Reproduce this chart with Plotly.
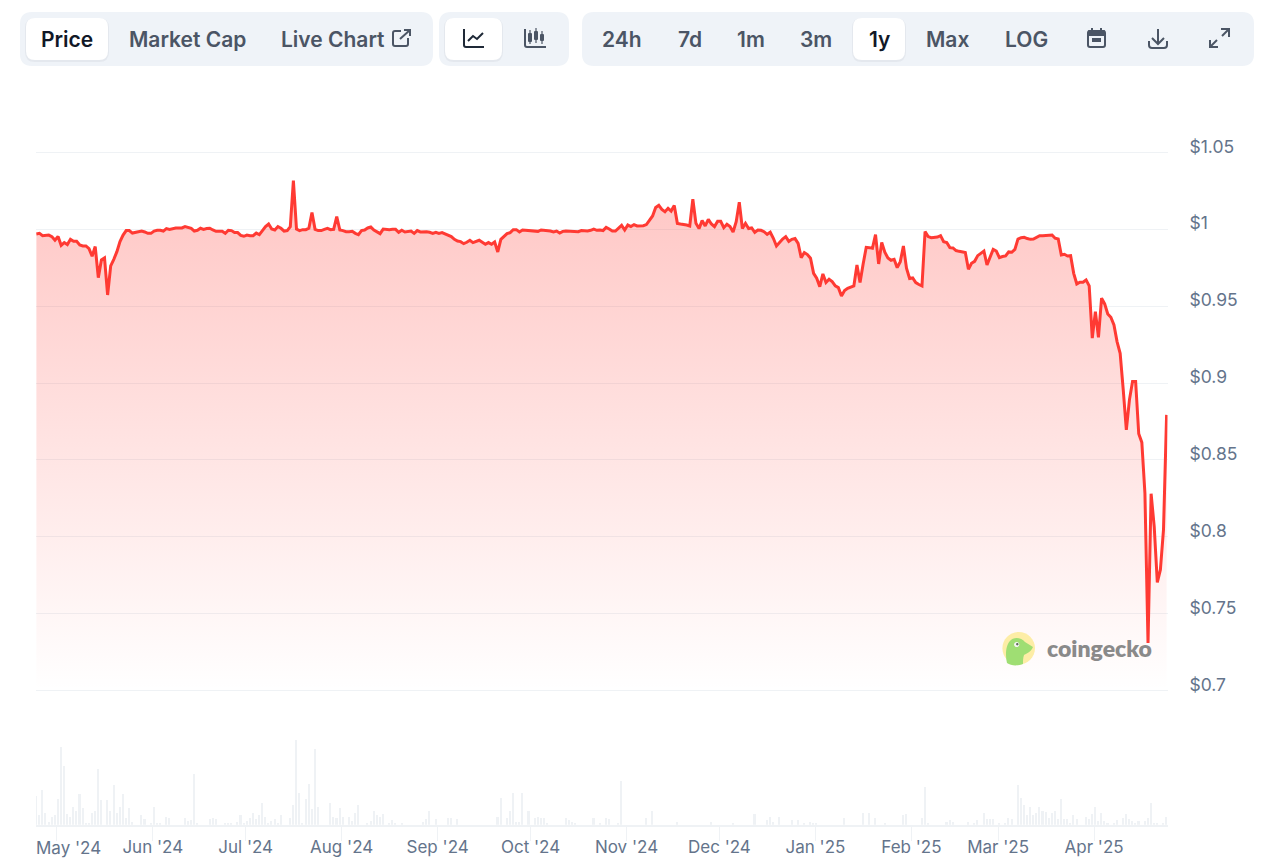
import pandas as pd
import plotly.graph_objects as go

AXIS_START = pd.Timestamp("2024-04-24 07:00")
FIRST_DAY = pd.Timestamp("2024-04-24 10:00")
END = pd.Timestamp("2025-04-24 17:00")

price = [
    .9970,.9974,.9959,.9959,.9963,.9953,.9929,.9953,.9896,.9914,.9901,.9935,.9922,.9922,.9898,.9892,.9892,.9875,.9825,.9888,
    .9686,.9801,.9814,.9573,.9762,.9805,.9855,.9920,.9963,.9992,.9992,.9976,.9981,.9989,.9989,.9983,.9974,.9974,.9989,.9994,
    .9994,.9989,1.0005,1.0000,1.0007,1.0009,1.0009,1.0009,1.0018,1.0011,1.0007,.9989,.9994,1.0007,1.0000,1.0005,1.0007,.9996,.9987,.9987,
    .9987,.9974,.9994,.9992,.9979,.9979,.9961,.9955,.9963,.9959,.9959,.9976,.9966,.9992,1.0018,1.0035,1.0002,.9996,1.0018,1.0007,
    .9989,.9992,1.0018,1.0317,1.0002,.9992,.9998,.9998,1.0007,1.0109,1.0000,.9992,.9992,1.0000,1.0007,.9998,1.0000,1.0083,.9996,.9992,
    .9985,.9985,.9987,.9974,.9966,.9992,.9996,1.0009,1.0015,.9996,.9985,.9972,1.0002,.9998,.9998,1.0000,1.0000,.9981,.9994,.9983,
    .9987,.9989,.9974,.9992,
    .9983,.9985,.9985,.9981,.9974,.9981,.9974,.9979,.9970,.9961,.9953,.9935,.9924,.9920,.9907,.9916,.9929,.9914,.9924,.9929,
    .9916,.9903,.9914,.9903,.9918,.9853,.9935,.9953,.9972,.9979,.9998,.9998,.9983,.9996,.9994,.9994,.9992,.9992,.9987,.9996,
    .9994,.9994,.9989,.9983,.9989,.9976,.9987,.9989,.9989,.9985,.9985,.9985,.9992,.9989,.9989,.9994,1.0002,.9994,.9996,.9992,
    1.0013,1.0002,.9989,.9989,1.0005,1.0026,.9996,1.0028,1.0018,1.0031,1.0022,1.0022,1.0024,1.0031,1.0061,1.0087,1.0143,1.0156,1.0130,1.0115,
    1.0137,1.0119,1.0156,1.0039,1.0035,1.0033,1.0028,1.0022,1.0197,1.0039,1.0005,1.0057,1.0022,1.0065,1.0035,1.0018,1.0052,1.0052,1.0011,1.0033,
    1.0018,.9983,1.0050,1.0176,1.0005,1.0039,1.0005,1.0009,.9981,.9996,.9994,.9985,.9968,.9981,.9942,.9892,.9918,.9937,.9953,.9922,
    .9935,.9940,.9909,.9816,.9849,.9836,.9812,.9714,.9682,.9627,
    .9710,.9654,.9675,.9660,.9632,.9621,.9567,.9602,.9617,.9625,.9632,.9768,.9654,.9775,.9883,.9881,.9877,.9966,.9775,.9914,
    .9851,.9814,.9799,.9805,.9751,.9790,.9892,.9747,.9680,.9684,.9654,.9641,.9632,.9985,.9953,.9946,.9946,.9950,.9959,.9920,
    .9914,.9881,.9879,.9862,.9857,.9851,.9849,.9740,.9779,.9792,.9829,.9844,.9859,.9768,.9823,.9870,.9859,.9816,.9823,.9827,
    .9853,.9851,.9870,.9937,.9946,.9948,.9940,.9935,.9937,.9946,.9959,.9959,.9959,.9959,.9963,.9942,.9937,.9833,.9838,.9827,
    .9829,.9714,.9645,.9656,.9656,.9671,.9632,.9292,.9465,.9298,.9552,.9515,.9450,.9428,.9378,
    .9270,.9194,.8956,.8696,.8891,.9010,.9010,.8670,.8614,.8284,.7309,.8280,.8067,.7703,.7786,.8046,.8793,
]

volume_day = [
    0,1,2,3,4,5,6,7,8,9,10,11,12,13,14,15,16,17,18,19,20,21,23,24,25,26,27,28,29,30,31,34,35,37,38,39,40,42,43,48,49,50,51,52,
    56,57,58,61,62,63,65,66,67,68,69,70,71,72,73,74,75,76,77,78,79,82,83,84,85,86,87,88,89,90,91,95,96,97,98,99,101,102,103,104,
    107,108,109,110,111,112,114,115,116,118,125,126,127,129,133,134,136,149,150,152,153,154,155,156,157,159,161,162,163,164,165,
    171,172,173,174,180,182,184,185,188,189,197,199,207,218,225,232,236,237,238,240,244,246,248,250,251,252,261,267,269,271,274,
    280,281,286,287,288,294,295,296,301,303,304,306,307,308,309,311,313,314,315,317,318,319,320,321,322,323,324,325,326,327,328,
    329,330,331,332,333,334,335,336,339,340,341,342,343,344,345,346,348,349,351,352,353,354,355,356,358,359,360,361,362,364,365,
]
volume = [
    29,10,35,12,3,8,10,26,78,59,11,8,18,14,31,17,2,2,12,14,56,25,25,14,40,12,18,31,7,17,3,10,6,2,18,2,2,8,7,7,4,5,51,2,
    6,7,6,2,2,2,3,10,2,4,7,12,6,10,22,8,2,4,6,2,10,7,20,85,32,2,26,41,16,76,18,22,8,7,17,8,8,4,12,20,
    2,4,14,10,8,11,2,5,2,2,3,6,14,6,7,7,6,8,27,7,14,32,3,3,32,14,7,8,7,7,2,
    7,5,3,2,7,2,7,6,2,44,7,14,3,3,2,11,5,8,3,8,5,5,2,3,2,2,7,12,12,7,2,
    10,11,7,38,2,3,5,3,3,2,5,12,6,6,6,2,2,7,6,40,27,20,10,18,10,12,18,14,13,7,12,
    14,6,26,6,6,2,10,6,8,6,11,18,4,12,4,2,2,5,7,11,6,4,2,4,4,7,22,2,2,2,8,
]

month_ticks = ["2024-05-01","2024-06-01","2024-07-01","2024-08-01","2024-09-01","2024-10-01",
               "2024-11-01","2024-12-01","2025-01-01","2025-02-01","2025-03-01","2025-04-01"]
month_labels = ["May '24","Jun '24","Jul '24","Aug '24","Sep '24","Oct '24",
                "Nov '24","Dec '24","Jan '25","Feb '25","Mar '25","Apr '25"]
price_ticks = [0.7,0.75,0.8,0.85,0.9,0.95,1,1.05]
price_labels = ["$0.7","$0.75","$0.8","$0.85","$0.9","$0.95","$1","$1.05"]

W, H = 1279, 865
LINE = "#FF3A33"
GRID = "#EFF2F5"
TICKTXT = "#64748B"
PILL = "#EFF3F8"
ACTIVE_TXT = "#111827"
IDLE_TXT = "#4B5565"
ICON = "#4B5565"
# The axis range runs 2 px past the two outer gridlines, so that both stay drawn.
PAD = 2 * 0.05 / 76.86


def px(x):
    return x / W


def py(y):
    return 1 - y / H


def transform(path_tokens):
    """Tokens: letters stay, numbers come as x,y pixel pairs."""
    out, is_x = [], True
    for t in path_tokens.split():
        if t.isalpha():
            out.append(t)
            is_x = True
        else:
            out.append(f"{px(float(t)):.5f}" if is_x else f"{py(float(t)):.5f}")
            is_x = not is_x
    return " ".join(out)


def rrect(x0, y0, x1, y1, r):
    return (f"M {x0+r} {y0} L {x1-r} {y0} Q {x1} {y0} {x1} {y0+r} L {x1} {y1-r} Q {x1} {y1} {x1-r} {y1} "
            f"L {x0+r} {y1} Q {x0} {y1} {x0} {y1-r} L {x0} {y0+r} Q {x0} {y0} {x0+r} {y0} Z")


def circle(cx, cy, r):
    k = r * 0.5523
    return (f"M {cx-r} {cy} C {cx-r} {cy-k} {cx-k} {cy-r} {cx} {cy-r} C {cx+k} {cy-r} {cx+r} {cy-k} {cx+r} {cy} "
            f"C {cx+r} {cy+k} {cx+k} {cy+r} {cx} {cy+r} C {cx-k} {cy+r} {cx-r} {cy+k} {cx-r} {cy} Z")


shapes = []


def fill(path, color):
    shapes.append(dict(type="path", xref="paper", yref="paper", path=transform(path),
                       fillcolor=color, line=dict(width=0), layer="above"))


def stroke(path, color=ICON, width=2):
    shapes.append(dict(type="path", xref="paper", yref="paper", path=transform(path),
                       line=dict(color=color, width=width), layer="above"))


# toolbar pills
fill(rrect(20, 12, 433, 66, 12), PILL)
fill(rrect(439, 12, 569, 66, 12), PILL)
fill(rrect(582, 12, 1254, 66, 12), PILL)
for x0, x1 in [(26, 108), (445, 502), (853, 905)]:
    fill(rrect(x0 - 1, 18, x1 + 1, 62, 10), "rgba(30,41,59,0.05)")
    fill(rrect(x0, 18, x1, 60, 9), "#FFFFFF")

# external-link icon
stroke("M 401 31 L 395 31 Q 393 31 393 33 L 393 44 Q 393 46 395 46 L 406 46 Q 408 46 408 44 L 408 38")
stroke("M 400 39 L 410 30")
stroke("M 404 30 L 410 30 L 410 36")
# line-chart icon
stroke("M 464 29 L 464 45 Q 464 47 466 47 L 484 47", "#1F2937")
stroke("M 468 41 L 473 36 L 477 39 L 483 33", "#1F2937")
# candlestick icon
stroke("M 525 29 L 525 45 Q 525 47 527 47 L 546 47")
for cx, top, bot, w0, w1 in [(530, 33, 42, 30, 44), (536, 31, 40, 28, 43), (542, 34, 41, 31, 44)]:
    stroke(f"M {cx} {w0} L {cx} {w1}", ICON, 1.2)
    fill(rrect(cx - 2, top, cx + 2, bot, 1), ICON)
# calendar icon
stroke(rrect(1088, 31, 1105, 47, 2))
fill(rrect(1088, 30, 1105, 36, 1), ICON)
stroke("M 1092 28 L 1092 32")
stroke("M 1101 28 L 1101 32")
fill(rrect(1092, 38, 1101, 42, 0), ICON)
# download icon
stroke("M 1158 29 L 1158 43")
stroke("M 1152 38 L 1158 44 L 1164 38")
stroke("M 1149 41 L 1149 45 Q 1149 48 1152 48 L 1164 48 Q 1167 48 1167 45 L 1167 41")
# expand icon
stroke("M 1210 47 L 1217 40")
stroke("M 1210 40 L 1210 47 L 1218 47")
stroke("M 1222 36 L 1229 29")
stroke("M 1221 29 L 1229 29 L 1229 37")

# coingecko logo
fill(circle(1018.7, 648.3, 16.3), "#FDEDA6")
fill("M 1007 663 C 1005 655 1006 645 1010 641 C 1013 637 1021 637 1025 642 L 1033 647 C 1031 652 1026 654 "
     "1024 655 C 1023 658 1023 661 1023 664 C 1018 666 1011 666 1007 663 Z", "#9FDE73")
fill(circle(1016.7, 644.5, 2.6), "#F4F4F4")
fill(circle(1017.3, 644.3, 1.2), "#5F6B5A")

annotations = []


def label(text, x, y, size=21, color=IDLE_TXT, weight=600, family="Inter", anchor="center"):
    annotations.append(dict(text=text, x=px(x), y=py(y), xref="paper", yref="paper", showarrow=False,
                            xanchor=anchor, yanchor="middle",
                            font=dict(family=family, size=size, color=color, weight=weight)))


label("Price", 66.5, 39, color=ACTIVE_TXT)
label("Market Cap", 187, 39)
label("Live Chart", 333, 39)
for text, cx, active in [("24h", 622, False), ("7d", 690, False), ("1m", 751, False), ("3m", 816, False),
                         ("1y", 879, True), ("Max", 947, False), ("LOG", 1026, False)]:
    label(text, cx, 39, color=ACTIVE_TXT if active else IDLE_TXT)
label("coingecko", 1099.5, 648, size=23, color="#8A8A8A", weight=800, family="Lato")

# first month label sits against the plot's left edge
annotations.append(dict(text=month_labels[0], x=px(68), y=py(848), xref="paper", yref="paper", showarrow=False,
                        xanchor="center", yanchor="middle", font=dict(family="Inter", size=17, color=TICKTXT)))

days = pd.date_range(FIRST_DAY, periods=len(price), freq="D")
vol_dates = [FIRST_DAY + pd.Timedelta(days=d) for d in volume_day]

fig = go.Figure()
fig.add_trace(go.Bar(x=vol_dates, y=volume, xaxis="x", yaxis="y2", marker=dict(color=GRID, line=dict(width=0)),
                     width=0.5 * 86400000, showlegend=False, hoverinfo="skip"))
fig.add_trace(go.Scatter(x=days, y=price, xaxis="x2", yaxis="y", mode="lines",
                         line=dict(color=LINE, width=3), fill="tozeroy",
                         fillgradient=dict(type="vertical", start=1.0317, stop=0.7,
                                           colorscale=[[0, "rgba(255,58,51,0.29)"], [1, "rgba(255,58,51,0)"]]),
                         showlegend=False))

fig.update_layout(
    width=W, height=H, margin=dict(l=0, r=0, t=0, b=0, autoexpand=False), autosize=False,
    paper_bgcolor="#FFFFFF", plot_bgcolor="rgba(0,0,0,0)",
    shapes=shapes, annotations=annotations, bargap=0,
    font=dict(family="Inter", color=TICKTXT, size=17),
    xaxis=dict(domain=[px(36), px(1167.5)], anchor="y2", range=[AXIS_START, END], type="date", automargin=False,
               tickvals=month_ticks, ticktext=[""] + month_labels[1:], ticks="outside", ticklen=14, tickwidth=1.3,
               tickcolor=GRID, showline=True, linecolor=GRID, linewidth=2, showgrid=False, zeroline=False,
               tickfont=dict(family="Inter", size=17, color=TICKTXT), ticklabelstandoff=-8),
    xaxis2=dict(domain=[px(36), px(1167.5)], anchor="y", matches="x", visible=False, type="date", automargin=False),
    yaxis=dict(domain=[py(692.5), py(150.5)], range=[0.7 - PAD, 1.05 + PAD], anchor="x2", side="right", automargin=False,
               tickvals=price_ticks, ticktext=price_labels, showgrid=True, gridcolor=GRID, gridwidth=1.3,
               zeroline=False, showline=False, ticks="", ticklabelstandoff=21, ticklabelshift=-6,
               tickfont=dict(family="Inter", size=17.5, color=TICKTXT)),
    yaxis2=dict(domain=[py(824.8), py(724.8)], range=[0, 100], anchor="x", visible=False, automargin=False),
)

fig.write_html("out.html", config=dict(displayModeBar=False, responsive=False),
               post_script="document.body.style.margin='0';document.documentElement.style.overflow='hidden';")
